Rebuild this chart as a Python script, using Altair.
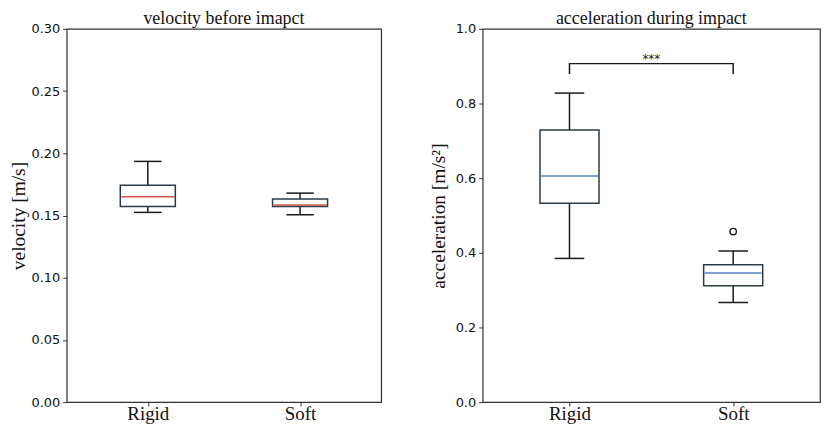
import altair as alt
import pandas as pd

# ---------------- data ----------------
categories = ["Rigid", "Soft"]
positions = [1, 2]

# velocity before impact [m/s]
vel_low = [0.1525, 0.1506]
vel_q1 = [0.1572, 0.1572]
vel_med = [0.1651, 0.1585]
vel_q3 = [0.1743, 0.1632]
vel_high = [0.1935, 0.1680]

# acceleration during impact [m/s^2]
acc_low = [0.385, 0.267]
acc_q1 = [0.533, 0.312]
acc_med = [0.606, 0.346]
acc_q3 = [0.729, 0.368]
acc_high = [0.828, 0.405]

acc_outlier_pos = [2]
acc_outlier_val = [0.457]

# significance bracket
sig_pair = [1, 2]
sig_top = 0.907
sig_foot = 0.879
sig_label = "***"

vel_ticks = [0.0, 0.05, 0.10, 0.15, 0.20, 0.25, 0.30]
acc_ticks = [0.0, 0.2, 0.4, 0.6, 0.8, 1.0]

# ---------------- styling ----------------
BOX_EDGE = "#2b3a4a"
LINE = "#1a1a1a"
LEFT_W, RIGHT_W, H = 316, 339, 375
BOX_FRAC = 0.35  # box width in x-data units

label_expr = "[" + ",".join("'%s'" % c for c in categories) + "][datum.value - 1]"


def panel(low, q1, med, q3, high, median_color, domain, ticks, fmt, ytitle,
          title, width, title_pad, extra=None):
    df = pd.DataFrame({"pos": positions, "cat": categories, "low": low,
                       "q1": q1, "med": med, "q3": q3, "high": high})
    box_px = BOX_FRAC * width / 2.0
    xs = alt.Scale(domain=[0.5, 2.5], nice=False, zero=False)
    xaxis = alt.Axis(values=positions, labelExpr=label_expr, title=None)
    ys = alt.Scale(domain=domain, nice=False, zero=False)
    yaxis = alt.Axis(values=ticks, format=fmt, title=ytitle,
                     titlePadding=title_pad)

    def X():
        return alt.X("pos:Q", scale=xs, axis=xaxis)

    def Y(f):
        return alt.Y(f + ":Q", scale=ys, axis=yaxis)

    base = alt.Chart(df)
    w_lo = base.mark_rule(color=LINE, strokeWidth=1.5).encode(
        x=X(), y=Y("low"), y2="q1:Q")
    w_hi = base.mark_rule(color=LINE, strokeWidth=1.5).encode(
        x=X(), y=Y("q3"), y2="high:Q")
    cap_lo = base.mark_tick(orient="horizontal", size=box_px / 2, thickness=1.5,
                            color=LINE, opacity=1).encode(x=X(), y=Y("low"))
    cap_hi = base.mark_tick(orient="horizontal", size=box_px / 2, thickness=1.5,
                            color=LINE, opacity=1).encode(x=X(), y=Y("high"))
    box = base.mark_bar(size=box_px, fill="white", stroke=BOX_EDGE,
                        strokeWidth=1.5).encode(x=X(), y=Y("q1"), y2="q3:Q")
    median = base.mark_tick(orient="horizontal", size=box_px - 2, thickness=1.5,
                            color=median_color, opacity=1).encode(x=X(), y=Y("med"))
    layers = [w_lo, w_hi, cap_lo, cap_hi, box, median]
    if extra:
        layers += extra(X, Y)
    return alt.layer(*layers).properties(
        width=width, height=H,
        title=alt.TitleParams(title, anchor="middle"))


def acc_extra(X, Y):
    out_df = pd.DataFrame({"pos": acc_outlier_pos, "val": acc_outlier_val})
    outl = alt.Chart(out_df).mark_point(shape="circle", size=42, filled=False,
                                        stroke=LINE, strokeWidth=1.4,
                                        opacity=1).encode(x=X(), y=Y("val"))
    br_df = pd.DataFrame({
        "pos": [sig_pair[0], sig_pair[0], sig_pair[1], sig_pair[1]],
        "val": [sig_foot, sig_top, sig_top, sig_foot],
        "order": [0, 1, 2, 3]})
    bracket = alt.Chart(br_df).mark_line(color=LINE, strokeWidth=1.5).encode(
        x=X(), y=Y("val"), order="order:Q")
    txt_df = pd.DataFrame({"pos": [sum(sig_pair) / 2.0], "val": [sig_top],
                           "t": [sig_label]})
    txt = alt.Chart(txt_df).mark_text(font="DejaVu Sans", fontSize=12,
                                      baseline="alphabetic", dy=-1,
                                      color=LINE).encode(
        x=X(), y=Y("val"), text="t:N")
    return [outl, bracket, txt]


left = panel(vel_low, vel_q1, vel_med, vel_q3, vel_high, "#d2553f",
             [0, 0.30], vel_ticks, ".2f", "velocity [m/s]",
             "velocity before imapct", LEFT_W, 2)
right = panel(acc_low, acc_q1, acc_med, acc_q3, acc_high, "#5580c0",
              [0, 1.0], acc_ticks, ".1f", "acceleration [m/s\u00b2]",
              "acceleration during impact", RIGHT_W, 7, extra=acc_extra)

chart = alt.hconcat(left, right, spacing=45).properties(
    padding={"left": 0, "top": 0, "right": 0, "bottom": 0}
).configure_view(
    stroke="#333333", strokeWidth=1.2
).configure_axis(
    grid=False, domain=False, tickColor="#333333", tickSize=4, tickWidth=1,
    labelColor="#111111", titleColor="#111111", labelPadding=3,
    titleFont="Liberation Serif", titleFontSize=19.5, titleFontWeight="normal"
).configure_axisX(
    labelFont="Liberation Serif", labelFontSize=19, labelBaseline="alphabetic",
    labelPadding=13
).configure_axisY(
    labelFont="DejaVu Sans", labelFontSize=13
).configure_title(
    font="Liberation Serif", fontSize=18, fontWeight="normal", color="#111111",
    offset=-5
)

chart.save("out.html", embed_options={"renderer": "svg", "actions": False})
